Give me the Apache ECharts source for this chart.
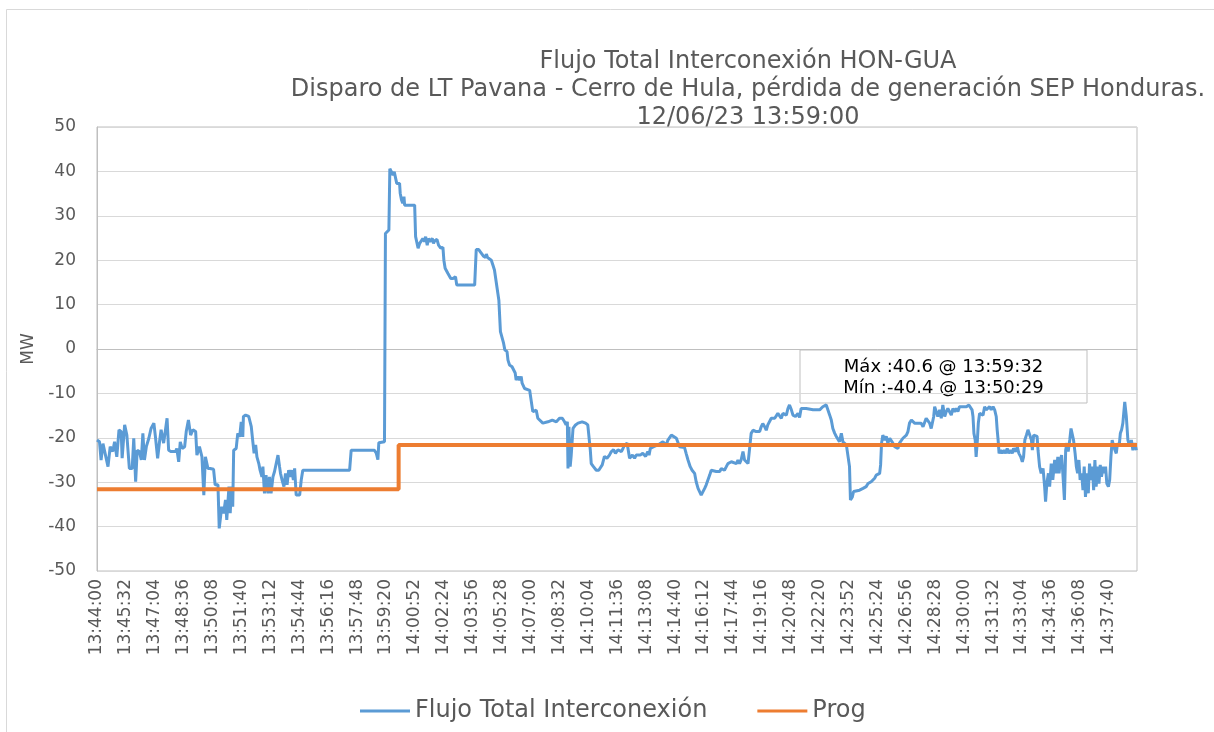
<!DOCTYPE html>
<html>
<head>
<meta charset="utf-8">
<script src="https://cdn.jsdelivr.net/npm/echarts@6/dist/echarts.min.js"></script>
<style>
html,body{margin:0;padding:0;background:#fff;}
#chart{width:1214px;height:732px;}
</style>
</head>
<body>
<div id="chart"></div>
<script>
// ---- data (seconds after 13:44:00, MW) ----
const titleLines = ["Flujo Total Interconexión HON-GUA",
  "Disparo de LT Pavana - Cerro de Hula, pérdida de generación SEP Honduras.",
  "12/06/23 13:59:00"];
const seriesNames = ["Flujo Total Interconexión", "Prog"];
const startTime = "13:44:00";
const xLabelStepSec = 92;
const xEndSec = 3310;
const yMin = -50, yMax = 50, yStep = 10;
const annotationLines = ["Máx :40.6 @ 13:59:32", "Mín :-40.4 @ 13:50:29"];

const flujo = [[0,-20.5],[8,-20.9],[13,-25],[19,-21.3],[27,-23.9],[35,-26.5],[42,-22],[50,-23.1],[56,-20.9],[63,-24.3],[70,-18.2],[77,-18.6],[80,-24.6],[88,-17.1],[95,-19.4],[103,-26.9],[112,-26.9],[117,-20.1],[123,-29.9],[128,-22.8],[135,-23.1],[141,-25],[146,-19],[151,-25],[157,-22],[165,-20.1],[172,-17.9],[181,-16.7],[186,-19.8],[193,-24.6],[199,-20.9],[204,-18.2],[212,-21.2],[218,-18.2],[223,-15.6],[228,-22.8],[236,-23.1],[241,-22.8],[250,-23.1],[254,-22.4],[260,-25.4],[265,-20.9],[271,-22.4],[279,-22],[284,-18.6],[291,-16],[298,-19.4],[305,-18.2],[314,-18.6],[318,-23.9],[326,-22],[334,-24.3],[340,-32.9],[345,-24.3],[353,-26.9],[360,-26.9],[371,-27.1],[376,-30.6],[385,-30.6],[389,-40.4],
[397,-35.5],[403,-37],[409,-34],[413,-38.5],[420,-31],[424,-37],[428,-31],[432,-35.5],[435,-22.8],[443,-22.4],[448,-19],[454,-19.8],[459,-16.4],[464,-19.8],[466,-15.2],[473,-14.9],[483,-15.2],[491,-17.5],[496,-20.9],[500,-23.5],[505,-21.6],[509,-24.3],[515,-25.8],[519,-27.3],[525,-28.8],[528,-26.5],[533,-32.5],[538,-28.4],[544,-32.5],[549,-28.8],[554,-32.5],[560,-28.8],[565,-27.6],[570,-27.3],[576,-23.9],[581,-26.5],[584,-28],[589,-29.5],[595,-31],[600,-28],[605,-30.6],[610,-27.3],[615,-28.8],[620,-27.3],[625,-29.5],[629,-26.9],[634,-32.9],[645,-32.9],[650,-29.5],[655,-27.3],[804,-27.3],[809,-22.8],[883,-22.8],[889,-23.5],[894,-24.9],[897,-21.1],[915,-20.9],[918,26.0],[929,26.8],[932,40.6],[936,40.2],[942,39.2],[946,39.9],[950,39.9],[954,37.3],[963,37.3],[965,35.1],[969,33.6],[973,32.8],[977,34.3],[979,32.4],[1011,32.4],[1014,25.3],[1018,24.9],[1022,22.7],[1027,23.8],[1032,23.8],[1037,24.9],[1042,24.2],[1046,25.3],[1051,23.4],[1055,24.9],[1060,24.2],[1067,24.9],[1071,23.8],[1075,24.4],[1082,24.7],[1087,23.4],[1090,23.4],[1094,22.7],[1101,22.9],[1104,20.0],[1108,18.2],[1114,17.8],[1117,17.0],[1122,16.9],[1126,15.9],[1133,15.9],[1136,16.3],[1141,16.3],[1145,14.4],[1202,14.4],[1207,22.4],[1215,22.4],[1220,21.9],[1226,21.7],[1230,20.9],[1237,20.6],[1239,21.4],[1243,20.6],[1249,20.6],[1255,20.0],[1260,18.9],[1265,17.8],[1271,17.4],[1279,11.0],[1284,3.9],[1290,3.9],[1294,1.3],[1298,-0.2],[1305,-0.6],[1308,-2.5],[1313,-3.6],[1321,-4.0],[1327,-4.4],[1331,-5.4],[1334,-7.0],[1340,-6.2],[1345,-7.0],[1350,-6.2],[1353,-7.7],[1361,-8.9],[1377,-9.3],[1382,-9.2],[1387,-14.1],[1393,-14.5],[1398,-13.8],[1403,-15.6],[1408,-15.2],[1419,-16.7],[1435,-16.4],[1449,-16],[1462,-16.4],[1472,-15.6],[1481,-15.6],[1488,-16.4],[1493,-17.1],[1497,-16.4],[1499,-26.9],[1502,-17.5],[1506,-26.5],[1509,-24.2],[1515,-17.9],[1523,-17.1],[1531,-16.7],[1544,-16.4],[1555,-16.7],[1562,-17.1],[1568,-17.5],[1570,-22.7],[1573,-25.8],[1580,-26.5],[1589,-27.3],[1597,-27.3],[1602,-26.9],[1608,-26.1],[1615,-24.2],[1623,-24.6],[1631,-23.9],[1637,-23.1],[1644,-22.7],[1650,-23.5],[1658,-22.7],[1663,-22.4],[1669,-23.1],[1674,-22.4],[1679,-21.6],[1687,-21.2],[1690,-22.4],[1695,-24.6],[1704,-23.9],[1711,-24.6],[1716,-23.9],[1729,-23.9],[1737,-23.5],[1746,-24.2],[1753,-23.1],[1757,-23.9],[1761,-22.4],[1772,-22],[1785,-21.6],[1791,-21.2],[1801,-20.9],[1812,-21.6],[1817,-20.5],[1828,-19.4],[1833,-19],[1844,-20.1],[1849,-20.5],[1854,-22],[1870,-22.2],[1875,-23.5],[1881,-25],[1888,-26.5],[1894,-27.3],[1902,-28],[1907,-29.9],[1913,-31.4],[1918,-31],[1923,-32.9],[1928,-32.5],[1934,-31.4],[1939,-30.6],[1944,-30.3],[1950,-28.4],[1955,-27.3],[1960,-26.9],[1971,-27.6],[1982,-27.6],[1987,-26.9],[1992,-26.5],[1997,-27.3],[2003,-26.5],[2008,-25.8],[2013,-26.1],[2019,-25.4],[2024,-25.8],[2035,-25.8],[2040,-25],[2045,-25.8],[2050,-25],[2056,-23.1],[2061,-25],[2072,-25.8],[2077,-25.8],[2082,-19],[2088,-18.3],[2093,-17.9],[2098,-18.6],[2104,-18.3],[2109,-18.6],[2114,-17.5],[2119,-16.8],[2125,-17.5],[2130,-18.3],[2135,-17.1],[2141,-16.8],[2146,-15.6],[2151,-16],[2157,-15.6],[2162,-15.2],[2167,-14.5],[2172,-14.9],[2178,-15.6],[2183,-14.5],[2188,-14.1],[2194,-14.9],[2199,-13.4],[2204,-12.6],[2210,-13.7],[2215,-14.9],[2223,-15.2],[2231,-14.5],[2236,-15.4],[2241,-13.4],[2257,-13.4],[2279,-13.7],[2300,-13.7],[2310,-13],[2321,-12.6],[2326,-13],[2332,-14.9],[2337,-16],[2342,-17.9],[2348,-19],[2353,-19.7],[2358,-20.1],[2363,-20.9],[2369,-19],[2374,-20.9],[2385,-21.6],[2390,-21.2],[2395,-26.5],[2398,-34],[2404,-33.3],[2408,-32.1],[2427,-31.8],[2438,-31.4],[2448,-31],[2454,-30.3],[2459,-30.6],[2464,-29.9],[2475,-29.1],[2480,-28.4],[2491,-28],[2494,-26.1],[2497,-21.2],[2501,-19.4],[2507,-20.5],[2512,-19.7],[2517,-21.2],[2523,-20.1],[2528,-20.5],[2533,-21.2],[2539,-22],[2549,-22.4],[2554,-21.2],[2560,-20.9],[2565,-20.1],[2570,-19.7],[2576,-19.4],[2581,-18.6],[2586,-16.7],[2592,-16],[2597,-16.4],[2602,-16.7],[2608,-17.1],[2613,-16.7],[2618,-17.1],[2623,-16.7],[2629,-17.5],[2634,-17.9],[2639,-15.6],[2645,-16],[2650,-16.7],[2655,-17.9],[2661,-18.2],[2663,-15.2],[2666,-13],[2671,-13],[2676,-15.2],[2682,-13.7],[2687,-15.6],[2692,-12.6],[2698,-15.2],[2703,-14.1],[2708,-13.4],[2714,-13],[2719,-14.9],[2724,-13.4],[2729,-14.1],[2735,-13.4],[2740,-14.1],[2745,-13],[2756,-13],[2767,-13],[2775,-12.6],[2779,-13],[2785,-13.7],[2788,-15.2],[2791,-19],[2795,-20.5],[2798,-24.3],[2802,-20.5],[2805,-16.7],[2809,-14.5],[2814,-14.1],[2820,-14.9],[2825,-13],[2830,-13.7],[2836,-13.4],[2841,-13],[2846,-13.7],[2852,-13],[2857,-13.7],[2862,-15.2],[2865,-18.2],[2868,-20.5],[2871,-23.5],[2876,-22.8],[2881,-23.5],[2887,-22.8],[2892,-23.5],[2897,-22.4],[2902,-23.5],[2908,-22.8],[2913,-23.5],[2917,-22.4],[2924,-23.1],[2929,-22],[2934,-23.5],[2940,-24.3],[2945,-25.4],[2949,-24.3],[2953,-20.5],[2958,-19.4],[2963,-18.2],[2968,-18.6],[2974,-20.5],[2977,-22.8],[2981,-19.4],[2986,-19],[2992,-19.7],[2995,-22.8],[3000,-26.5],[3005,-28],[3011,-26.9],[3016,-31],[3019,-34.4],[3023,-30.3],[3028,-28],[3032,-31],[3037,-25.8],[3042,-29.5],[3048,-25],[3053,-28],[3058,-24.3],[3062,-28],[3066,-25],[3070,-23.9],[3074,-28],[3079,-34],[3083,-22.8],[3087,-21.2],[3091,-23.1],[3096,-20.5],[3100,-17.9],[3104,-17.5],[3108,-20.5],[3113,-23.5],[3117,-26.5],[3121,-28],[3125,-25],[3129,-29.5],[3134,-28],[3138,-31.8],[3142,-26.5],[3146,-33.3],[3151,-28],[3155,-32.5],[3159,-25.8],[3163,-29.5],[3168,-26.5],[3172,-31.8],[3176,-25],[3180,-31],[3185,-26.5],[3189,-30.3],[3193,-26.1],[3197,-28.8],[3202,-26.5],[3206,-28],[3210,-26.5],[3214,-30.3],[3219,-31],[3223,-29.5],[3227,-24.3],[3231,-20.5],[3236,-22],[3240,-22.8],[3244,-23.5],[3248,-21.2],[3253,-22],[3257,-19],[3261,-18.2],[3265,-16.7],[3271,-11.9],[3276,-15.2],[3281,-20.5],[3287,-22],[3292,-20.5],[3297,-22.8],[3303,-21.2],[3308,-22.8]];

const prog = [[0,-31.6],[960,-31.6],[960,-21.6],[3310,-21.6]];

// ---- chart ----
const FONT = '"DejaVu Sans", Verdana, sans-serif';
const TXT = '#595959';
function toClock(sec){
  const p = startTime.split(':').map(Number);
  let s = p[0]*3600 + p[1]*60 + p[2] + Math.round(sec);
  const h = Math.floor(s/3600); s -= h*3600;
  const m = Math.floor(s/60); const ss = s - m*60;
  const pad = n => (n<10?'0':'') + n;
  return pad(h)+':'+pad(m)+':'+pad(ss);
}

const chart = echarts.init(document.getElementById('chart'), null, {renderer:'canvas'});
chart.setOption({
  animation: false,
  backgroundColor: '#ffffff',
  title: {
    text: titleLines.join('\n'),
    left: 748, top: 48, padding: 0,
    textAlign: 'center',
    textStyle: {fontFamily: FONT, fontSize: 24, fontWeight: 'normal', color: TXT, lineHeight: 28}
  },
  legend: {
    data: seriesNames,
    left: 355, top: 694,
    icon: 'rect', itemWidth: 50, itemHeight: 3, itemGap: 50,
    textStyle: {fontFamily: FONT, fontSize: 24, color: TXT}
  },
  grid: {left: 97, right: 77, top: 127, bottom: 161, show: true, borderColor: '#BFBFBF', borderWidth: 1, containLabel: false, outerBoundsMode: 'none'},
  xAxis: {
    type: 'value', min: 0, max: xEndSec, interval: xLabelStepSec,
    splitLine: {show: false}, axisTick: {show: false},
    axisLine: {show: true, lineStyle: {color: '#BFBFBF'}},
    axisLabel: {rotate: 90, margin: 8, fontFamily: FONT, fontSize: 17, color: TXT, showMaxLabel: false, hideOverlap: false,
      formatter: v => toClock(v)}
  },
  yAxis: {
    type: 'value', min: yMin, max: yMax, interval: yStep,
    name: 'MW', nameLocation: 'middle', nameRotate: 90, nameGap: 60,
    nameTextStyle: {fontFamily: FONT, fontSize: 17, color: TXT},
    splitLine: {show: true, lineStyle: {color: '#D9D9D9', width: 1}},
    axisTick: {show: false},
    axisLine: {show: true, lineStyle: {color: '#BFBFBF', width: 1}},
    axisLabel: {margin: 21, fontFamily: FONT, fontSize: 17, color: TXT}
  },
  series: [
    {name: seriesNames[0], type: 'line', data: flujo, showSymbol: false, symbol: 'none',
      lineStyle: {color: '#5B9BD5', width: 3}, itemStyle: {color: '#5B9BD5'}, z: 2},
    {name: seriesNames[1], type: 'line', data: prog, showSymbol: false, symbol: 'none',
      lineStyle: {color: '#ED7D31', width: 4}, itemStyle: {color: '#ED7D31'}, z: 3}
  ],
  graphic: [
    {type: 'rect', left: 4, top: 7, z: -10, silent: true,
      shape: {x: 0, y: 0, width: 1260, height: 780},
      style: {fill: 'none', stroke: '#D9D9D9', lineWidth: 1}},
    {type: 'group', x: 800, y: 350, z: 100, children: [
      {type: 'rect', shape: {x: 0, y: 0, width: 287, height: 53},
        style: {fill: '#ffffff', stroke: '#BFBFBF', lineWidth: 1}},
      {type: 'text', x: 143.5, y: 17, style: {text: annotationLines[0], fill: '#000000', font: '18px ' + FONT, textAlign: 'center', textVerticalAlign: 'middle'}},
      {type: 'text', x: 143.5, y: 38, style: {text: annotationLines[1], fill: '#000000', font: '18px ' + FONT, textAlign: 'center', textVerticalAlign: 'middle'}}
    ]}
  ]
});
</script>
</body>
</html>
